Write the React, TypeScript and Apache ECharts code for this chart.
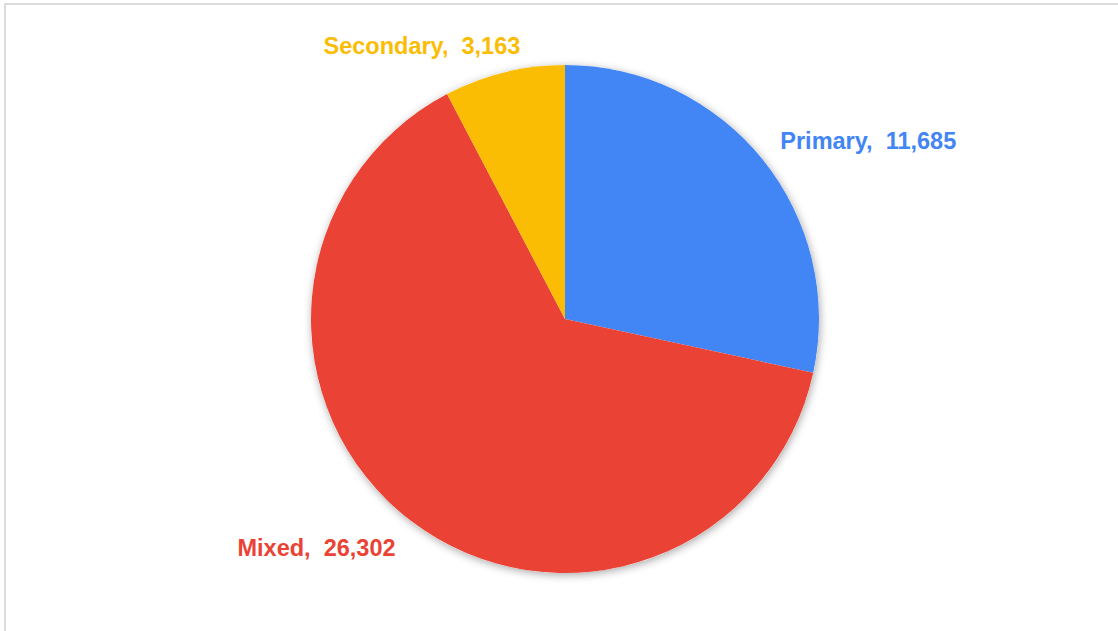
import React, { useEffect, useRef } from "react";
import * as echarts from "echarts";

const categories = ["Primary", "Mixed", "Secondary"];
const values = [11685, 26302, 3163];
const colors = ["#4285F4", "#EA4335", "#FBBC04"];
const labelNudgeX = [-10, 7, 28];
const labelNudgeY = [0, 4, 2];

export default function App() {
  const ref = useRef<HTMLDivElement>(null);
  useEffect(() => {
    if (!ref.current) return;
    const chart = echarts.init(ref.current, null, { renderer: "svg" });
    const total = values.reduce((a, b) => a + b, 0);
    chart.setOption({
      animation: false,
      backgroundColor: "transparent",
      series: [
        {
          type: "pie",
          silent: true,
          center: [565, 319],
          radius: 254,
          label: { show: false },
          labelLine: { show: false },
          itemStyle: {
            color: "#ffffff",
            shadowBlur: 8,
            shadowColor: "rgba(0,0,0,0.35)",
            shadowOffsetX: 1,
            shadowOffsetY: 2,
          },
          tooltip: { show: false },
          data: [{ name: "", value: total }],
          z: 1,
        },
        {
          type: "pie",
          center: [565, 319],
          radius: 254,
          startAngle: 90,
          clockwise: true,
          avoidLabelOverlap: false,
          itemStyle: { borderWidth: 0 },
          label: {
            show: true,
            position: "outside",
            fontFamily: "Liberation Sans, Arial, sans-serif",
            fontWeight: "bold",
            fontSize: 23.5,
            formatter: (p: any) =>
              `${p.name},  ${Number(p.value).toLocaleString("en-US")}`,
          },
          labelLine: { show: false, length: 29, length2: 0 },
          labelLayout: (params: any) => ({
            dx: labelNudgeX[params.dataIndex],
            dy: labelNudgeY[params.dataIndex],
          }),
          data: categories.map((c, i) => ({
            name: c,
            value: values[i],
            itemStyle: { color: colors[i] },
            label: { color: colors[i] },
          })),
          z: 2,
        },
      ],
    });
    return () => chart.dispose();
  }, []);
  return (
    <div
      style={{
        position: "fixed",
        left: 0,
        top: 0,
        width: 1118,
        height: 631,
        overflow: "hidden",
        background: "#ffffff",
      }}
    >
      <div
        style={{
          position: "absolute",
          left: 4,
          top: 3,
          width: 1300,
          height: 800,
          border: "2px solid #dcdcdc",
          boxSizing: "border-box",
        }}
      />
      <div
        ref={ref}
        style={{ position: "absolute", left: 0, top: 0, width: 1118, height: 631 }}
      />
    </div>
  );
}
